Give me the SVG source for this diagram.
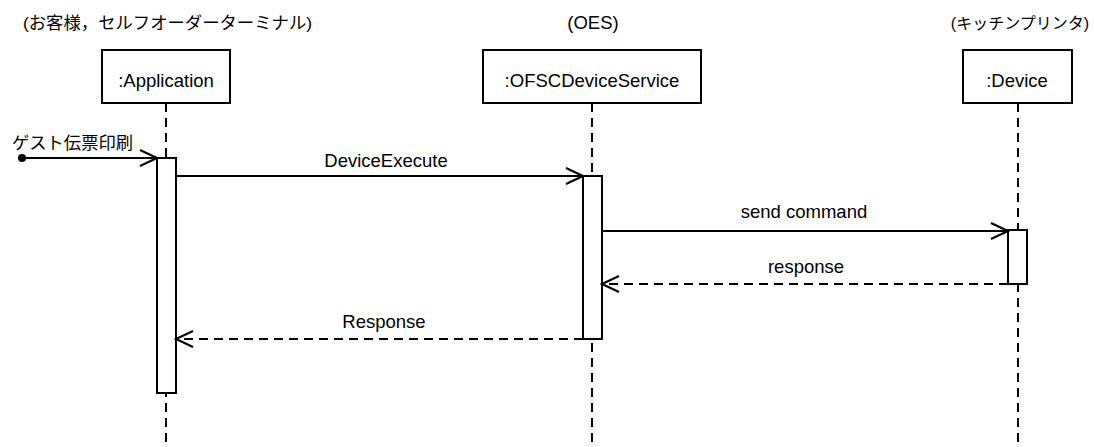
<svg xmlns="http://www.w3.org/2000/svg" width="1094" height="447" viewBox="0 0 1094 447">
  <style>
    text { font-family: "Liberation Sans", "Noto Sans CJK JP", sans-serif; fill: #000; }
    .lbl { font-size: 18.5px; text-anchor: middle; }
    .jp { font-size: 17px; }
    .box { fill: #fff; stroke: #000; stroke-width: 2; }
    .life { stroke: #000; stroke-width: 2; stroke-dasharray: 9 6; fill: none; }
    .act { fill: #fff; stroke: #000; stroke-width: 2; }
    .msg { stroke: #000; stroke-width: 2; fill: none; marker-end: url(#open); }
    .ret { stroke: #000; stroke-width: 2; fill: none; stroke-dasharray: 9 6; marker-end: url(#open); }
  </style>
  <defs>
    <marker id="open" viewBox="-19 -10 21 20" refX="0" refY="0" markerWidth="21" markerHeight="20" markerUnits="userSpaceOnUse" orient="auto">
      <path d="M -17 -8 L 0 0 L -17 8" fill="none" stroke="#000" stroke-width="2" stroke-dasharray="none"/>
    </marker>
  </defs>
  <rect width="1094" height="447" fill="#fff"/>

  <!-- role captions -->
  <text class="jp" x="23" y="29" textLength="289" lengthAdjust="spacingAndGlyphs">(お客様，セルフオーダーターミナル)</text>
  <text class="lbl" x="593" y="29">(OES)</text>
  <text class="jp" x="1089" y="29" text-anchor="end" style="font-size:16px">(キッチンプリンタ)</text>

  <!-- lifelines -->
  <g id="lifelines">
    <line class="life" x1="166" y1="103" x2="166" y2="447"/>
    <line class="life" x1="592" y1="103" x2="592" y2="447"/>
    <line class="life" x1="1018" y1="103" x2="1018" y2="447"/>
  </g>

  <g id="application">
    <rect class="box" x="102" y="50" width="128" height="53"/>
    <text class="lbl" x="166" y="87">:Application</text>
    <rect class="act" x="157" y="158" width="19" height="235"/>
  </g>

  <g id="ofsc-device-service">
    <rect class="box" x="483" y="50" width="218" height="53"/>
    <text class="lbl" x="592" y="87">:OFSCDeviceService</text>
    <rect class="act" x="583" y="176" width="19" height="163"/>
  </g>

  <g id="device">
    <rect class="box" x="963" y="50" width="109" height="53"/>
    <text class="lbl" x="1017" y="87">:Device</text>
    <rect class="act" x="1008" y="230" width="19" height="54"/>
  </g>

  <!-- messages -->
  <g id="connectors">
    <circle cx="22" cy="158" r="4" fill="#000"/>
    <line class="msg" x1="22" y1="158" x2="157" y2="158"/>
    <text class="jp" x="12" y="149" textLength="121" lengthAdjust="spacingAndGlyphs">ゲスト伝票印刷</text>

    <line class="msg" x1="176" y1="176" x2="583" y2="176"/>
    <text class="lbl" x="386" y="167">DeviceExecute</text>

    <line class="msg" x1="602" y1="231" x2="1008" y2="231"/>
    <text class="lbl" x="804" y="218">send command</text>

    <line class="ret" x1="1008" y1="284" x2="602" y2="284"/>
    <text class="lbl" x="806" y="273">response</text>

    <line class="ret" x1="583" y1="339" x2="176" y2="339"/>
    <text class="lbl" x="384" y="328">Response</text>
  </g>
</svg>
